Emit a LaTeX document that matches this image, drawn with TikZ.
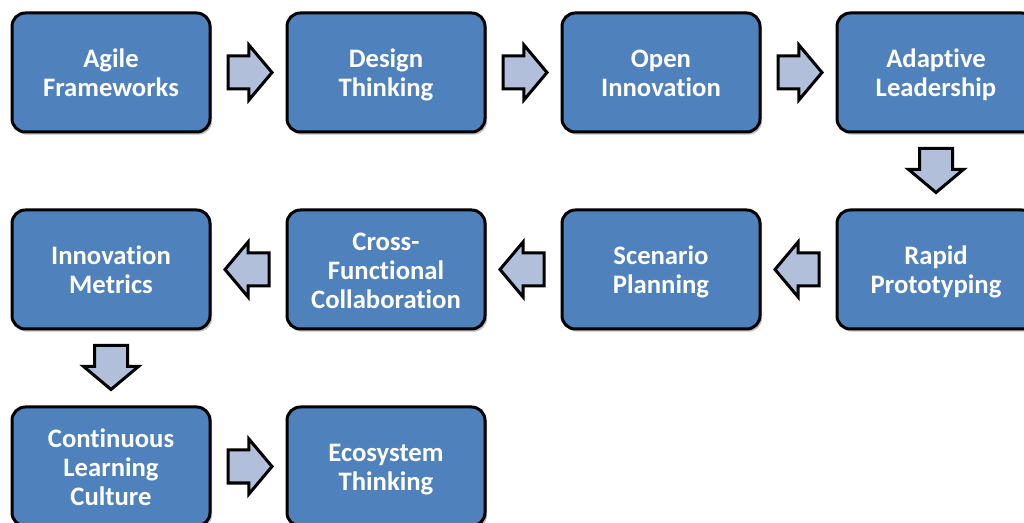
\documentclass[tikz,border=0pt]{standalone}
\usepackage{fontspec}
\setmainfont{Carlito}[Ligatures={NoCommon}]
\usepackage{tikz}
\usetikzlibrary{shapes.arrows, positioning, calc, shadows}
\definecolor{boxblue}{HTML}{4F81BD}
\definecolor{arrowblue}{HTML}{B1BFDA}
\tikzstyle{topic} = [rectangle, rounded corners=10pt, minimum width=148.5pt, minimum height=89.25pt, text width=140pt, align=center, draw=black, line width=2.25pt, fill=boxblue, text=white, font=\fontsize{20}{21.75}\selectfont\bfseries, execute at begin node={\rule{0pt}{19.5pt}}, execute at end node={\rule[-5pt]{0pt}{5pt}}, drop shadow={shadow xshift=1.5pt, shadow yshift=-2pt, opacity=0.25, fill=black}]
\tikzstyle{blockarrow} = [single arrow, anchor=tail, draw=black, line width=2.25pt, fill=arrowblue, minimum height=33pt, inner xsep=0pt, inner ysep=11.25pt, single arrow head extend=8.25pt, single arrow tip angle=100, text height=0pt, text depth=0pt]

\begin{document}
\begin{tikzpicture}[node distance=56.25pt and 55.5pt]
\useasboundingbox (0,0) rectangle (768pt,-392.25pt);

\node (agile) [topic] at (83.25pt,-54.375pt) {Agile\\Frameworks};

\node (design) [topic, right=of agile] {Design\\Thinking};

\node (open) [topic, right=of design] {Open\\Innovation};

\node (adaptive) [topic, right=of open] {Adaptive\\Leadership};

\node (rapid) [topic, below=of adaptive] {Rapid\\Prototyping};

\node (scenario) [topic, left=of rapid] {Scenario\\Planning};

\node (cross) [topic, left=of scenario] {Cross-\\Functional\\Collaboration};

\node (metrics) [topic, left=of cross] {Innovation\\Metrics};

\node (learning) [topic, below=of metrics] {Continuous\\Learning\\Culture};

\node (ecosystem) [topic, right=of learning] {Ecosystem\\Thinking};


% block arrows: tail sits half an arrow length before the midpoint
\node [blockarrow] at ($($(agile)!0.5!(design)$)!16.5pt!(agile)$) {};

\node [blockarrow] at ($($(design)!0.5!(open)$)!16.5pt!(design)$) {};

\node [blockarrow] at ($($(open)!0.5!(adaptive)$)!16.5pt!(open)$) {};

\node [blockarrow, rotate=-90] at ($($(adaptive)!0.5!(rapid)$)!18pt!(adaptive)$) {};

\node [blockarrow, rotate=180] at ($($(rapid)!0.5!(scenario)$)!16.5pt!(rapid)$) {};

\node [blockarrow, rotate=180] at ($($(scenario)!0.5!(cross)$)!16.5pt!(scenario)$) {};

\node [blockarrow, rotate=180] at ($($(cross)!0.5!(metrics)$)!16.5pt!(cross)$) {};

\node [blockarrow, rotate=-90] at ($($(metrics)!0.5!(learning)$)!18pt!(metrics)$) {};

\node [blockarrow] at ($($(learning)!0.5!(ecosystem)$)!16.5pt!(learning)$) {};

\end{tikzpicture}
\end{document}
